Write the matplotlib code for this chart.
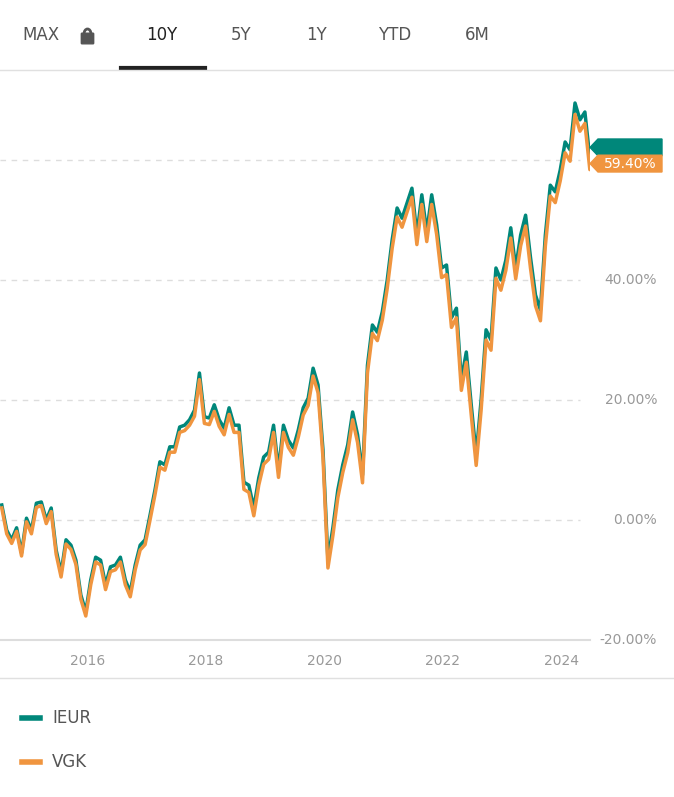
import matplotlib.pyplot as plt
from matplotlib.patches import Polygon, FancyBboxPatch, Arc

ieur = [2.5,-1.7,-3.3,-1.3,-5.5,0.3,-1.7,2.8,3.0,0,2.0,-5.0,-8.8,-3.3,-4.2,-6.7,-12.5,-15.3,-10,-6.2,
        -6.7,-10.8,-7.8,-7.5,-6.2,-10,-12,-7.5,-4.2,-3.3,0.8,5,9.7,9.2,12.2,12.2,15.5,15.8,16.7,18.3,
        24.5,17.2,17,19.2,16.7,15.3,18.7,15.8,15.8,6.3,5.8,2,7,10.5,11.3,15.8,8.3,15.8,13.3,12,
        15,18.7,20.3,25.3,22.5,11.7,-6.7,-1.3,5,9.2,12.5,18,14.2,7.5,25.8,32.5,31.3,34.7,40,46.7,
        52,50.3,52.8,55.3,47.5,54.2,48,54.2,49.2,42,42.5,33.7,35.3,23.3,28,19.2,10.8,20,31.7,30,
        42,40,43.3,48.7,42,47.5,50.8,43.7,37.5,35,47.5,55.8,54.7,58.3,63,61.7,69.5,66.7,68,60.3,62.1]
vgk = [2.0,-2.3,-3.9,-1.9,-6.0,-0.3,-2.3,2.1,2.4,-0.6,1.4,-5.7,-9.5,-4.0,-4.9,-7.4,-13.2,-16.0,-10.8,-7.0,
       -7.5,-11.6,-8.6,-8.3,-7.0,-10.8,-12.8,-8.3,-5.0,-4.1,0.0,4.2,8.8,8.3,11.3,11.3,14.6,14.9,15.8,17.3,
       23.4,16.1,15.9,18.1,15.6,14.2,17.6,14.6,14.6,5.1,4.6,0.7,5.8,9.3,10.1,14.6,7.1,14.6,12.1,10.8,
       13.8,17.5,19.1,24.0,21.2,10.4,-8.0,-2.6,3.7,7.9,11.2,16.7,12.9,6.2,24.5,31.1,29.9,33.3,38.6,45.3,
       50.5,48.8,51.3,53.8,45.9,52.6,46.4,52.6,47.6,40.4,40.9,32.1,33.7,21.6,26.3,17.5,9.1,18.3,30.0,28.3,
       40.3,38.3,41.6,47.0,40.2,45.7,49.0,41.9,35.7,33.2,45.7,54.0,52.9,56.5,61.2,59.8,67.6,64.8,66.1,58.4,59.4]
dates = [2014.56 + i / 12 for i in range(len(ieur))]
years = [2016, 2018, 2020, 2022, 2024]
yticks = [-20, 0, 20, 40, 60]
tabs = ["MAX", "10Y", "5Y", "1Y", "YTD", "6M"]
tab_x = [22, 146, 231, 306, 378, 465]

teal = "#00877a"
orange = "#f0953f"
W, H = 674, 797

fig = plt.figure(figsize=(6.74, 7.97), dpi=100)
ax = fig.add_axes([0, 1 - 640 / H, 590 / W, 570 / H])

x0, x1 = 2014.53, 2014.53 + 590 / 59.3
ax.set_xlim(x0, x1)
ax.set_ylim(-20, 75)
for v in yticks:
    if v > -20:
        ax.plot([x0, x0 + 580 / 59.3], [v, v], color="#dddddd", lw=1, ls=(0, (4, 4)), zorder=0)
    if v < 60:  # the 60% label sits under the end tags
        ax.text(x0 + 657 / 59.3, v, f"{v:.2f}%", color="#999999", fontsize=10, va="center",
                ha="right", clip_on=False)

ax.plot(dates, ieur, color=teal, lw=2.5, zorder=2)
ax.plot(dates, vgk, color=orange, lw=2.5, zorder=3)

# end labels
def tag(y, col, txt, z):
    xs = x0 + 598 / 59.3
    xe = x0 + 662 / 59.3
    dx = 8 / 59.3
    dy = 1.4
    p = Polygon([[xs - dx, y], [xs, y + dy], [xe, y + dy], [xe, y - dy], [xs, y - dy]],
                closed=True, color=col, clip_on=False, zorder=z)
    ax.add_patch(p)
    if txt:
        ax.text((xs + xe) / 2, y, txt, color="white", fontsize=10, ha="center", va="center",
                clip_on=False, zorder=z + 1)

tag(ieur[-1], teal, "", 4)
tag(vgk[-1], orange, "59.40%", 6)

for s in ["top", "left", "right"]:
    ax.spines[s].set_visible(False)
ax.spines["bottom"].set_color("#dddddd")
ax.spines["bottom"].set_linewidth(1.5)
ax.set_yticks([])
ax.set_xticks(years)
ax.set_xticklabels([str(y) for y in years], color="#999999", fontsize=10)
ax.tick_params(axis="x", length=0, pad=10)

# tab bar
for t, x in zip(tabs, tab_x):
    fig.text(x / W, 1 - 35 / H, t, fontsize=12, color="#222222" if t == "10Y" else "#555555",
             va="center")
# lock icon
fig.add_artist(FancyBboxPatch((82 / W, 1 - 43 / H), 11 / W, 9 / H, boxstyle="round,pad=0.001",
                              color="#555555", transform=fig.transFigure))
fig.add_artist(Arc((87.5 / W, 1 - 34 / H), 7 / W, 10 / H, theta1=0, theta2=180, color="#555555",
                   lw=2, transform=fig.transFigure))
fig.add_artist(plt.Line2D([121 / W, 205 / W], [1 - 68 / H] * 2, color="#222222", lw=3))
fig.add_artist(plt.Line2D([0, 1], [1 - 70 / H] * 2, color="#e0e0e0", lw=1))
fig.add_artist(plt.Line2D([0, 1], [1 - 678 / H] * 2, color="#e0e0e0", lw=1))

# legend
for i, (name, col) in enumerate([("IEUR", teal), ("VGK", orange)]):
    yy = 1 - (718 + 44 * i) / H
    fig.add_artist(plt.Line2D([22 / W, 40 / W], [yy, yy], color=col, lw=4))
    fig.text(52 / W, yy, name, fontsize=12, color="#555555", va="center")

fig.savefig("out.png")
